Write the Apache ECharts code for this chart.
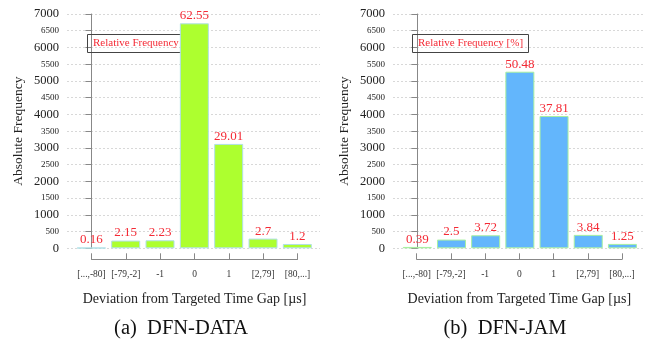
<!DOCTYPE html>
<html><head><meta charset="utf-8">
<script src="https://cdn.jsdelivr.net/npm/echarts@6/dist/echarts.min.js"></script>
<style>html,body{margin:0;padding:0;background:#fff;}#c{width:656px;height:339px;}</style>
</head><body><div id="c"></div>
<script>
const categories = ['[...,-80]','[-79,-2]','-1','0','1','[2,79]','[80,...]'];
const dataAbs = [17, 231, 240, 6722, 3118, 290, 129];
const dataRel = [0.16, 2.15, 2.23, 62.55, 29.01, 2.7, 1.2];
const jamAbs = [41, 261, 389, 5276, 3952, 401, 131];
const jamRel = [0.39, 2.5, 3.72, 50.48, 37.81, 3.84, 1.25];
const yTicks = {min: 0, max: 7000, interval: 500};
const captions = ['(a)  DFN-DATA', '(b)  DFN-JAM'];
const legendText = 'Relative Frequency [%]';
const xName = 'Deviation from Targeted Time Gap [\u00b5s]';
const yName = 'Absolute Frequency';

const FONT = '"Liberation Serif", "DejaVu Serif", serif';
const chart = echarts.init(document.getElementById('c'), null, {renderer: 'canvas'});

const panels = [
  {left: 67, width: 253, tickLeft: 91.5, tickWidth: 206, abs: dataAbs, rel: dataRel, color: '#adff2f', border: '#b0e0e6', legendLeft: 87, capX: 176},
  {left: 393, width: 252, tickLeft: 416.7, tickWidth: 205.3, abs: jamAbs, rel: jamRel, color: '#63b6fc', border: '#a8f0a0', legendLeft: 412, capX: 500}
];

const grid = [], xAxis = [], yAxis = [], series = [], title = [];
panels.forEach((p, k) => {
  const gPlot = grid.length;
  grid.push({left: p.left, width: p.width, top: 14, height: 234.3});
  const gTick = grid.length;
  grid.push({left: p.tickLeft, width: p.tickWidth, top: 14, height: 245.3});
  xAxis.push({gridIndex: gPlot, type: 'value', min: -0.71, max: 6.66, show: false});
  yAxis.push({
    gridIndex: gPlot, type: 'value', min: yTicks.min, max: yTicks.max, interval: yTicks.interval,
    name: yName, nameLocation: 'middle', nameGap: 42,
    nameTextStyle: {fontFamily: FONT, fontSize: 13.5, color: '#222'},
    axisLine: {show: true, lineStyle: {color: '#888', width: 1}},
    axisTick: {show: true, length: 6, lineStyle: {color: '#888'}},
    axisLabel: {
      margin: 8,
      formatter: v => (v % 1000 === 0 ? '{b|' + v + '}' : '{s|' + v + '}'),
      rich: {
        b: {fontFamily: FONT, fontSize: 12.5, color: '#222'},
        s: {fontFamily: FONT, fontSize: 9, color: '#222'}
      }
    },
    splitLine: {show: true, lineStyle: {color: '#d8d8d8', type: [2, 2], width: 1}}
  });
  xAxis.push({
    gridIndex: gTick, type: 'category', data: categories, boundaryGap: false,
    name: xName, nameLocation: 'middle', nameGap: 33,
    nameTextStyle: {fontFamily: FONT, fontSize: 14, color: '#222'},
    axisLine: {show: true, lineStyle: {color: '#888', width: 1}},
    axisTick: {show: true, inside: true, length: 6, alignWithLabel: true, lineStyle: {color: '#888'}},
    axisLabel: {fontFamily: FONT, fontSize: 9.5, color: '#333', margin: 10, interval: 0}
  });
  yAxis.push({gridIndex: gTick, type: 'value', show: false});
  series.push({
    type: 'bar', xAxisIndex: 2 * k, yAxisIndex: 2 * k, barWidth: 29, z: 5,
    data: categories.map((c, i) => [i, p.abs[i]]),
    itemStyle: {color: p.color, borderColor: p.border, borderWidth: 1},
    label: {
      show: true, position: 'top', distance: 1,
      formatter: prm => String(p.rel[prm.dataIndex]),
      fontFamily: FONT, fontSize: 13, color: '#f42a35'
    },
    silent: true
  });
  title.push({
    text: legendText, left: p.legendLeft, top: 34, z: 1,
    textStyle: {fontFamily: FONT, fontSize: 11, fontWeight: 'normal', color: '#f42a35'},
    borderColor: '#444', borderWidth: 1, padding: [4, 6, 4, 6]
  });
  title.push({
    text: captions[k], left: p.capX, top: 313, textAlign: 'center',
    textStyle: {fontFamily: FONT, fontSize: 20.5, fontWeight: 'normal', color: '#111'}
  });
});

chart.setOption({animation: false, backgroundColor: '#fff', title, grid, xAxis, yAxis, series});
</script>
</body></html>
